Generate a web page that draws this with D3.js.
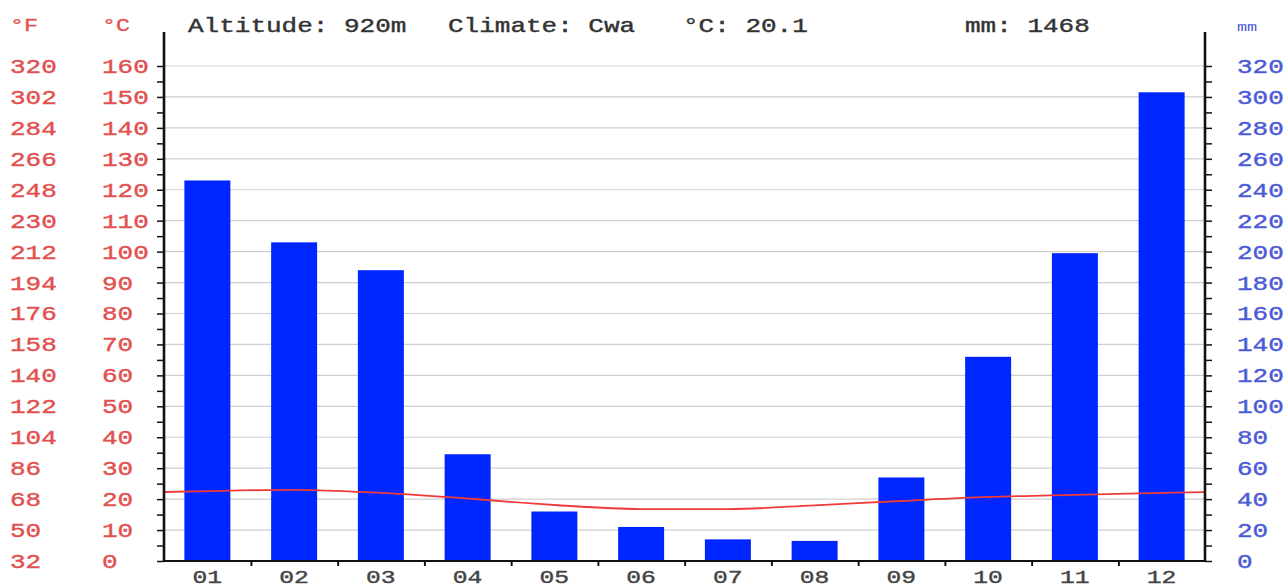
<html>
<head>
<script src="https://cdn.jsdelivr.net/npm/d3@7"></script>
<style>
  body { margin: 0; background: #fff; }
  svg { display: block; }
</style>
</head>
<body>
<div id="chart"></div>
<script>
// values
var months  = ["01","02","03","04","05","06","07","08","09","10","11","12"];
var precip  = [246, 206, 188, 69, 32, 22, 14, 13, 54, 132, 199, 303];   // mm
var temp    = [22.6, 23.0, 22.0, 20.2, 18.1, 16.8, 16.8, 18.0, 19.4, 20.7, 21.4, 22.0]; // °C
var cLabels = [0,10,20,30,40,50,60,70,80,90,100,110,120,130,140,150,160];
var fLabels = [32,50,68,86,104,122,140,158,176,194,212,230,248,266,284,302,320];
var mmLabels = [0,20,40,60,80,100,120,140,160,180,200,220,240,260,280,300,320];
var header = [["Altitude: 920m", 188], ["Climate: Cwa", 448], ["°C: 20.1", 683], ["mm: 1468", 965]];

var W = 1285, H = 588, S = 1.3;       // picture is stretched horizontally
var IW = W / S;
var px = function(v) { return v / S; };

var L = px(164), R = px(1205), TOP = 66, BOT = 561;
var FONT = "'Liberation Mono', 'Courier New', monospace";

var svg = d3.select("#chart").append("svg")
  .attr("width", W).attr("height", H)
  .attr("viewBox", "0 0 " + IW + " " + H)
  .attr("preserveAspectRatio", "none");

var x = d3.scaleBand().domain(months).range([L, R]).padding(0);
var yC = d3.scaleLinear().domain([0, 160]).range([BOT, TOP]);
var yMM = d3.scaleLinear().domain([0, 320]).range([BOT, TOP]);

// grid
svg.append("g").selectAll("line").data(cLabels.slice(1)).enter().append("line")
  .attr("x1", L).attr("x2", R)
  .attr("y1", function(d) { return yC(d); }).attr("y2", function(d) { return yC(d); })
  .attr("stroke", "#cfcfcf").attr("stroke-width", 1.2);

// bars
var bw = x.bandwidth();
svg.append("g").selectAll("rect").data(precip).enter().append("rect")
  .attr("x", function(d, i) { return x(months[i]) + bw * 0.235; })
  .attr("width", bw * 0.53)
  .attr("y", function(d) { return yMM(d); })
  .attr("height", function(d) { return BOT - yMM(d); })
  .attr("fill", "#0026ff");

// temperature line, wrapped at both edges
var edge = (temp[0] + temp[11]) / 2;
var pts = [[L, edge]].concat(temp.map(function(t, i) { return [x(months[i]) + bw / 2, t]; }), [[R, edge]]);
svg.append("path").datum(pts)
  .attr("d", d3.line().x(function(d) { return d[0]; }).y(function(d) { return yC(d[1]); }).curve(d3.curveMonotoneX))
  .attr("fill", "none").attr("stroke", "#f03a3a").attr("stroke-width", 1.8);

// axes
var tickPos = d3.range(0, 161, 5);
var axL = svg.append("g").attr("transform", "translate(" + L + ",0)")
  .call(d3.axisLeft(yC).tickValues(tickPos).tickFormat("").tickSize(px(7)).tickSizeOuter(0));
var axR = svg.append("g").attr("transform", "translate(" + R + ",0)")
  .call(d3.axisRight(yC).tickValues(tickPos).tickFormat("").tickSize(px(7)).tickSizeOuter(0));
var axB = svg.append("g").attr("transform", "translate(0," + BOT + ")")
  .call(d3.axisBottom(d3.scaleLinear().domain([0, 12]).range([L, R])).tickValues(d3.range(1, 12)).tickFormat("").tickSize(5).tickSizeOuter(0));
[axL, axR].forEach(function(a) {
  a.select(".domain").attr("d", "M0,32V" + BOT);
});
[axL, axR, axB].forEach(function(a) {
  a.selectAll("line").attr("stroke", "#111").attr("stroke-width", 1.5);
  a.select(".domain").attr("stroke", "#111").attr("stroke-width", 2);
});
axB.select(".domain").attr("d", "M" + L + ",0H" + R);

// tick labels
function labels(arr, xPos, scale, color) {
  svg.append("g").selectAll("text").data(arr).enter().append("text")
    .attr("x", px(xPos)).attr("y", function(d) { return scale(d) + 7; })
    .attr("font-family", FONT).attr("font-size", 20).attr("fill", color)
    .attr("stroke", color).attr("stroke-width", 0.4)
    .text(function(d) { return d; });
}
labels(fLabels, 10, function(d) { return yC((d - 32) / 1.8); }, "#e2504f");
labels(cLabels, 102, yC, "#e2504f");
labels(mmLabels, 1237, yMM, "#4b5ad6");

// unit labels
svg.append("text").attr("x", px(10)).attr("y", 31).attr("font-family", FONT).attr("font-size", 18).attr("fill", "#e2504f").attr("stroke", "#e2504f").attr("stroke-width", 0.3).text("°F");
svg.append("text").attr("x", px(102)).attr("y", 31).attr("font-family", FONT).attr("font-size", 18).attr("fill", "#e2504f").attr("stroke", "#e2504f").attr("stroke-width", 0.3).text("°C");
svg.append("text").attr("x", px(1237)).attr("y", 31).attr("font-family", FONT).attr("font-size", 13).attr("fill", "#4b5ad6").text("mm");

// month labels
svg.append("g").selectAll("text").data(months).enter().append("text")
  .attr("x", function(d) { return x(d) + bw / 2; }).attr("y", 583)
  .attr("text-anchor", "middle").attr("font-family", FONT).attr("font-size", 19).attr("fill", "#444")
  .attr("stroke", "#444").attr("stroke-width", 0.4)
  .text(function(d) { return d; });

// header
svg.append("g").selectAll("text").data(header).enter().append("text")
  .attr("x", function(d) { return px(d[1]); }).attr("y", 32)
  .attr("font-family", FONT).attr("font-size", 20).attr("fill", "#333")
  .attr("stroke", "#333").attr("stroke-width", 0.4)
  .text(function(d) { return d[0]; });
</script>
</body>
</html>
